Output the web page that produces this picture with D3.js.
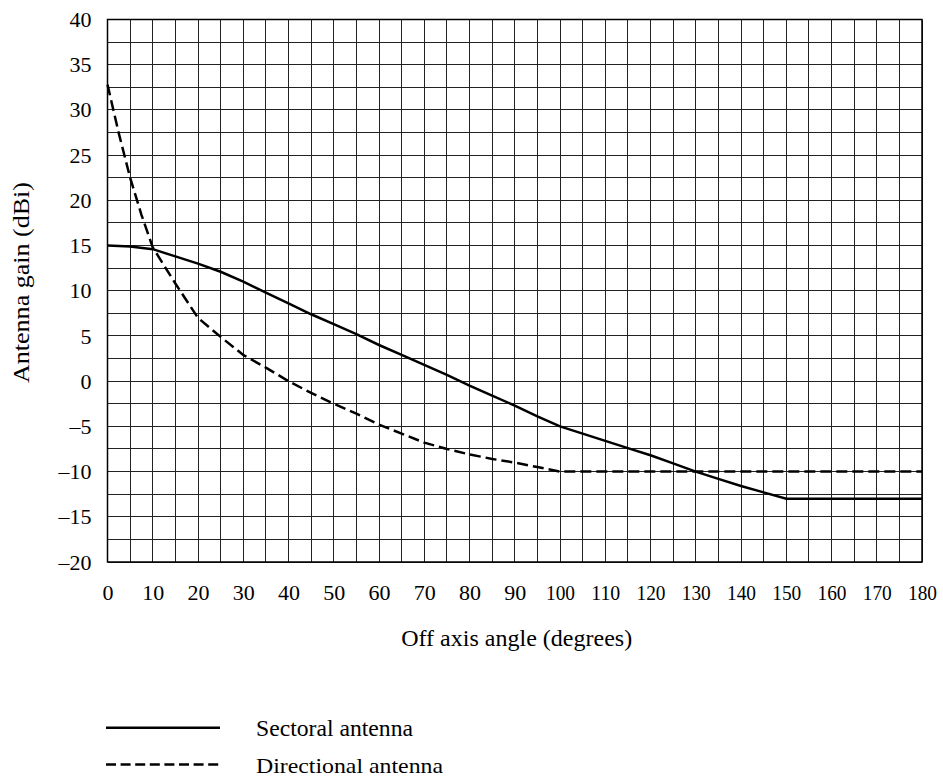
<!DOCTYPE html>
<html>
<head>
<meta charset="utf-8">
<script src="https://cdn.jsdelivr.net/npm/d3@7"></script>
<style>
  html, body { margin: 0; padding: 0; background: #fff; }
  svg { display: block; }
</style>
</head>
<body>
<svg id="chart" width="943" height="776" style='font-family: "Liberation Serif", serif'></svg>
<script>
// Off-axis angle (degrees) and antenna gain (dBi) for each reference pattern
const sectoralAngles = [0, 5, 10, 15, 20, 25, 30, 35, 40, 45, 50, 55, 60, 65, 70, 75, 80, 85, 90, 95, 100,
                        105, 110, 115, 120, 125, 130, 135, 140, 145, 150, 180];
const sectoralGain   = [15, 14.9, 14.6, 13.8, 13.0, 12.1, 11.0, 9.8, 8.6, 7.4, 6.3, 5.2, 4.0, 2.9, 1.8, 0.7,
                        -0.5, -1.6, -2.7, -3.9, -5.0, -5.8, -6.6, -7.4, -8.2, -9.1, -10.0, -10.8, -11.6, -12.3, -13.0, -13.0];

const directionalAngles = [0, 2.5, 5, 7.5, 10, 15, 20, 25, 30, 35, 40, 45, 50, 55, 60, 65, 70, 75, 80, 85, 90, 95, 100, 180];
const directionalGain   = [32.8, 27.4, 22.5, 18.4, 14.8, 10.8, 7.0, 4.9, 2.9, 1.5, 0.0, -1.3, -2.5, -3.6, -4.8,
                           -5.8, -6.8, -7.5, -8.1, -8.6, -9.0, -9.5, -10.0, -10.0];

const xTicks = d3.range(0, 181, 10);
const yTicks = d3.range(-20, 41, 5);
const xGrid = d3.range(0, 181, 5);
const yGrid = d3.range(-20, 40.1, 2.5);

const seriesNames = ["Sectoral antenna", "Directional antenna"];

const FONT = '"Liberation Serif", serif';
const svg = d3.select("#chart");
const plotLeft = 107.5, plotRight = 922, plotTop = 19.5, plotBottom = 562;

const x = d3.scaleLinear().domain([0, 180]).range([plotLeft, plotRight]);
const y = d3.scaleLinear().domain([-20, 40]).range([plotBottom, plotTop]);

// grid
const grid = svg.append("g").attr("stroke", "#222").attr("stroke-width", 1).attr("shape-rendering", "crispEdges");
grid.selectAll("line.v").data(xGrid).join("line").attr("class", "v")
  .attr("x1", d => x(d)).attr("x2", d => x(d)).attr("y1", plotTop).attr("y2", plotBottom);
grid.selectAll("line.h").data(yGrid).join("line").attr("class", "h")
  .attr("y1", d => y(d)).attr("y2", d => y(d)).attr("x1", plotLeft).attr("x2", plotRight);
svg.append("rect").attr("x", plotLeft).attr("y", plotTop)
  .attr("width", plotRight - plotLeft).attr("height", plotBottom - plotTop)
  .attr("fill", "none").attr("stroke", "#000").attr("stroke-width", 1.5);

// axes (labels only)
const fmt = d => d < 0 ? "\u2013" + Math.abs(d) : String(d);
const xAxis = svg.append("g").attr("transform", `translate(0,${plotBottom})`)
  .call(d3.axisBottom(x).tickValues(xTicks).tickFormat(fmt).tickSize(0).tickPadding(22));
const yAxis = svg.append("g").attr("transform", `translate(${plotLeft},0)`)
  .call(d3.axisLeft(y).tickValues(yTicks).tickFormat(fmt).tickSize(0).tickPadding(16));
[xAxis, yAxis].forEach(a => {
  a.attr("font-family", null).attr("font-size", null);
  a.select(".domain").remove();
  a.selectAll("text").style("font-family", FONT).style("font-size", "22px").attr("fill", "#000");
});
// three-digit angle labels are set slightly condensed
xAxis.selectAll("text").filter(d => d >= 100)
  .attr("textLength", 29).attr("lengthAdjust", "spacingAndGlyphs");

// axis titles
svg.append("text").attr("x", 516.7).attr("y", 646).attr("text-anchor", "middle")
  .style("font-family", FONT).style("font-size", "23px")
  .attr("textLength", 231).attr("lengthAdjust", "spacingAndGlyphs")
  .text("Off axis angle (degrees)");
svg.append("text").attr("transform", "translate(29,282.5) rotate(-90)")
  .attr("text-anchor", "middle").style("font-family", FONT).style("font-size", "23px")
  .attr("textLength", 201).attr("lengthAdjust", "spacingAndGlyphs")
  .text("Antenna gain (dBi)");

// curves
const line = d3.line().x(d => x(d[0])).y(d => y(d[1]));
const sectoral = d3.zip(sectoralAngles, sectoralGain);
const directional = d3.zip(directionalAngles, directionalGain);

svg.append("path").datum(directional).attr("d", line)
  .attr("fill", "none").attr("stroke", "#000").attr("stroke-width", 2.5).attr("stroke-dasharray", "11,5");
svg.append("path").datum(sectoral).attr("d", line)
  .attr("fill", "none").attr("stroke", "#000").attr("stroke-width", 2.5);

// legend
const legend = svg.append("g");
const legendRows = [
  { name: seriesNames[0], y: 727.7, dash: null, len: 157, size: 23 },
  { name: seriesNames[1], y: 764.5, dash: "10,4.6", len: 187, size: 22 }
];
legendRows.forEach(r => {
  legend.append("line").attr("x1", 106).attr("x2", 220).attr("y1", r.y).attr("y2", r.y)
    .attr("stroke", "#000").attr("stroke-width", 2.5).attr("stroke-dasharray", r.dash);
  legend.append("text").attr("x", 256).attr("y", r.y + 8)
    .style("font-family", FONT).style("font-size", r.size + "px")
    .attr("textLength", r.len).attr("lengthAdjust", "spacingAndGlyphs")
    .text(r.name);
});
</script>
</body>
</html>
